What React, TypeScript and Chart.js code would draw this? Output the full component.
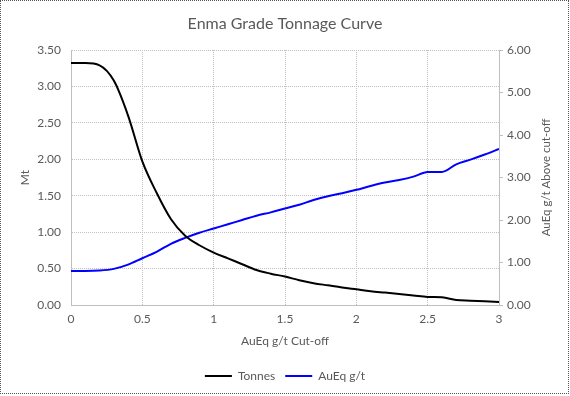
import React, { useEffect, useRef } from 'react';
import { Chart, registerables } from 'chart.js';

Chart.register(...registerables);

const cutoff = [0, 0.1, 0.2, 0.3, 0.4, 0.5, 0.6, 0.7, 0.8, 0.9, 1.0, 1.1, 1.2, 1.3, 1.4, 1.5, 1.6, 1.7, 1.8, 1.9, 2.0, 2.1, 2.2, 2.3, 2.4, 2.5, 2.6, 2.7, 2.8, 2.9, 3.0];
const tonnes = [3.32, 3.32, 3.29, 3.08, 2.60, 1.97, 1.54, 1.18, 0.95, 0.82, 0.72, 0.64, 0.56, 0.48, 0.43, 0.39, 0.34, 0.30, 0.27, 0.24, 0.215, 0.19, 0.17, 0.15, 0.13, 0.11, 0.105, 0.07, 0.06, 0.05, 0.04];
const grade = [0.80, 0.80, 0.81, 0.85, 0.95, 1.10, 1.25, 1.44, 1.58, 1.70, 1.80, 1.90, 2.00, 2.10, 2.18, 2.27, 2.36, 2.47, 2.56, 2.63, 2.71, 2.80, 2.88, 2.94, 3.02, 3.13, 3.13, 3.31, 3.42, 3.54, 3.67];

const seriesNames = ['Tonnes', 'AuEq g/t'];
const titleText = 'Enma Grade Tonnage Curve';
const xTitle = 'AuEq g/t Cut-off';
const yTitle = 'Mt';
const y1Title = 'AuEq g/t Above cut-off';

const TEXT = '#595959';
const GRID = '#bfbfbf';
const FONT = 'Lato, "Liberation Sans", sans-serif';

const rightTitlePlugin = {
  id: 'rightTitle',
  afterDraw(chart: any) {
    const { ctx, chartArea } = chart;
    ctx.save();
    ctx.translate(546, (chartArea.top + chartArea.bottom) / 2);
    ctx.rotate(-Math.PI / 2);
    ctx.textAlign = 'center';
    ctx.textBaseline = 'middle';
    ctx.fillStyle = TEXT;
    ctx.font = `11.5px ${FONT}`;
    ctx.fillText(y1Title, 0, 0);
    ctx.restore();
  },
};

export default function App() {
  const ref = useRef<HTMLCanvasElement>(null);

  useEffect(() => {
    document.body.style.margin = '0';
    const chart = new Chart(ref.current!, {
      type: 'line',
      data: {
        datasets: [
          {
            label: seriesNames[0],
            data: cutoff.map((c, i) => ({ x: c, y: tonnes[i] })),
            borderColor: '#000000',
            backgroundColor: '#000000',
            borderWidth: 2,
            pointRadius: 0,
            cubicInterpolationMode: 'monotone',
            yAxisID: 'y',
          },
          {
            label: seriesNames[1],
            data: cutoff.map((c, i) => ({ x: c, y: grade[i] })),
            borderColor: '#0000ff',
            backgroundColor: '#0000ff',
            borderWidth: 2,
            pointRadius: 0,
            cubicInterpolationMode: 'monotone',
            yAxisID: 'y1',
          },
        ],
      },
      options: {
        responsive: false,
        animation: false,
        layout: { padding: { bottom: 4 } },
        plugins: {
          tooltip: { enabled: false },
          title: {
            display: true,
            text: titleText,
            color: TEXT,
            font: { family: FONT, size: 16, weight: 'normal' },
            padding: { top: 14, bottom: 16.8 },
          },
          legend: {
            position: 'bottom',
            labels: {
              usePointStyle: true,
              pointStyle: 'line',
              pointStyleWidth: 27,
              color: TEXT,
              font: { family: FONT, size: 12 },
              padding: 10,
            },
          },
        },
        scales: {
          x: {
            type: 'linear',
            min: 0,
            max: 3,
            ticks: { stepSize: 0.5, color: TEXT, font: { family: FONT, size: 12 }, padding: 7, callback: (v: any) => String(Number(v)) },
            grid: { color: GRID, drawTicks: false },
            border: { color: GRID, dash: [1, 1] },
            title: { display: true, text: xTitle, color: TEXT, font: { family: FONT, size: 12 }, padding: { top: 4, bottom: 11.5 } },
            afterFit(scale: any) { scale.height = 55; },
          },
          y: {
            position: 'left',
            min: 0,
            max: 3.5,
            ticks: { stepSize: 0.5, color: TEXT, font: { family: FONT, size: 12 }, padding: 10, callback: (v: any) => Number(v).toFixed(2) },
            grid: { color: GRID, drawTicks: false },
            border: { color: GRID, dash: [1, 1] },
            title: { display: true, text: yTitle, color: TEXT, font: { family: FONT, size: 12 }, padding: { top: 18 } },
            afterFit(scale: any) { scale.width = 71; },
          },
          y1: {
            position: 'right',
            min: 0,
            max: 6,
            ticks: { stepSize: 1, color: TEXT, font: { family: FONT, size: 12 }, padding: 4, callback: (v: any) => Number(v).toFixed(2) },
            grid: { color: GRID, drawOnChartArea: false, drawTicks: true, tickLength: 4 },
            border: { color: GRID, dash: [1, 1] },
            afterFit(scale: any) { scale.width = 71; },
          },
        },
      },
      plugins: [rightTitlePlugin],
    });
    return () => chart.destroy();
  }, []);

  return (
    <div style={{ position: 'relative', width: 570, height: 396, background: '#fff' }}>
      <canvas ref={ref} width={570} height={396} style={{ display: 'block' }} />
      <div style={{ position: 'absolute', left: 0, top: 0, width: 567, height: 392, border: '1px dotted #555', pointerEvents: 'none' }} />
    </div>
  );
}
